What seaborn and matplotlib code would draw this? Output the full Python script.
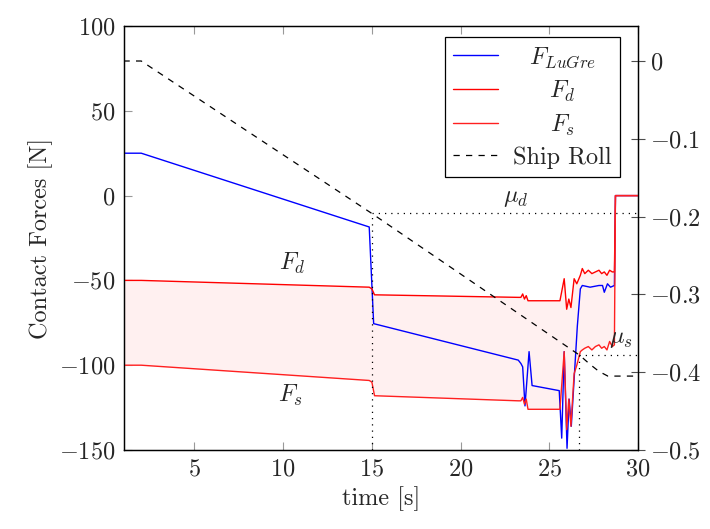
import numpy as np
import pandas as pd
import seaborn as sns
import matplotlib
matplotlib.use('Agg')
import matplotlib.pyplot as plt

# time axes of the series [s]
t_lugre = [1.0, 2.0, 14.85, 15.1, 23.25, 23.4, 23.5, 23.63, 23.86, 24.03, 25.56, 25.7,
           25.84, 26.0, 26.12, 26.24, 26.58, 26.75, 26.86, 27.3, 27.8, 28.0, 28.1, 28.28,
           28.45, 28.67, 28.73, 30.0]
f_lugre = [25, 25, -18.5, -75.5, -97, -99, -101, -124, -92, -112, -115, -143,
           -92, -149, -120, -136, -77, -55, -53, -54, -53, -53, -57, -52,
           -54, -53, 0, 0]

t_fric = [1.0, 2.0, 14.85, 15.0, 15.15, 23.25, 23.4, 23.5, 23.6, 23.7, 23.8, 25.6,
          25.84, 25.98, 26.1, 26.22, 26.4, 26.55, 26.75, 26.86, 27.0, 27.2, 27.4, 27.6,
          27.8, 27.95, 28.1, 28.25, 28.4, 28.55, 28.67, 28.73, 30.0]
f_d = [-50, -50, -54, -55, -58.5, -60, -60, -58, -61, -59, -62, -62,
       -49, -67, -61, -66, -49, -52, -47, -43, -46, -44, -46, -45,
       -44, -46, -45, -47, -44, -45, -45, 0, 0]
f_s = [-100, -100, -109, -110, -118, -121, -121, -119, -123, -120, -126, -126,
       -92, -138, -120, -136, -105, -100, -92, -91, -90, -89, -91, -89,
       -88, -90, -89, -91, -86, -89, -88, 0, 0]

t_roll = [1.0, 2.0, 15.0, 26.7, 27.3, 27.8, 28.3, 30.0]
roll = [0, 0, -0.196, -0.378, -0.390, -0.399, -0.405, -0.405]

# friction coefficient thresholds (right axis) and the times they are hit
mu_d, t_mu_d = -0.196, 15.0
mu_s, t_mu_s = -0.378, 26.7

x_ticks = [5, 10, 15, 20, 25, 30]
force_ticks = [-150, -100, -50, 0, 50, 100]
roll_ticks = [-0.5, -0.4, -0.3, -0.2, -0.1, 0]
roll_ticklabels = [r'$-0.5$', r'$-0.4$', r'$-0.3$', r'$-0.2$', r'$-0.1$', r'$0$']

sns.set_style('ticks')
plt.rcParams['font.family'] = 'cmr10'
plt.rcParams['mathtext.fontset'] = 'cm'
plt.rcParams['axes.formatter.use_mathtext'] = True
plt.rcParams['axes.unicode_minus'] = True
fs = 17.5

fig = plt.figure(figsize=(7.1, 5.29), dpi=100)
ax = fig.add_axes([123.5 / 710, 1 - 450 / 529, (638 - 123.5) / 710, (450 - 26) / 529])
ax2 = ax.twinx()

ax.fill_between(t_fric, f_d, f_s, color='#fff0f0', lw=0, zorder=1)
sns.lineplot(x=t_lugre, y=f_lugre, ax=ax, color='blue', lw=1, sort=False,
             estimator=None, label=r'$F_{LuGre}$', legend=False, zorder=3)
sns.lineplot(x=t_fric, y=f_d, ax=ax, color='red', lw=1, sort=False,
             estimator=None, label=r'$F_d$', legend=False, zorder=4)
sns.lineplot(x=t_fric, y=f_s, ax=ax, color='#ff2020', lw=1, sort=False,
             estimator=None, label=r'$F_s$', legend=False, zorder=4)
sns.lineplot(x=t_roll, y=roll, ax=ax2, color='black', lw=0.9, sort=False,
             estimator=None, label='Ship Roll', legend=False)
ax2.lines[-1].set_dashes([5, 5])

# threshold guides on the roll axis
dot = (0, (1, 4))
ax2.plot([t_mu_d, 30], [mu_d, mu_d], color='black', ls=dot, lw=0.9)
ax2.plot([t_mu_d, t_mu_d], [-0.5, mu_d], color='black', ls=dot, lw=0.9)
ax2.plot([t_mu_s, 30], [mu_s, mu_s], color='black', ls=dot, lw=0.9)
ax2.plot([t_mu_s, t_mu_s], [-0.5, mu_s], color='black', ls=dot, lw=0.9)
ax2.text(23.1, mu_d + 0.006, r'$\mu_d$', fontsize=fs, ha='center', va='bottom')
ax2.text(29.05, mu_s + 0.006, r'$\mu_s$', fontsize=fs, ha='center', va='bottom')

ax.text(10.5, -40, r'$F_d$', fontsize=fs, ha='center', va='center')
ax.text(10.4, -118, r'$F_s$', fontsize=fs, ha='center', va='center')

ax.set_xlim(1, 30)
ax.set_ylim(-150, 100)
ax2.set_ylim(-0.5, 0.045)
ax.set_xticks(x_ticks)
ax.set_yticks(force_ticks)
ax2.set_yticks(roll_ticks)
ax2.set_yticklabels(roll_ticklabels)
ax.set_xlabel('time [s]', fontsize=fs)
ax.set_ylabel('Contact Forces [N]', fontsize=fs)

ax.tick_params(axis='both', direction='in', length=6, width=0.8, color='0.6',
               labelsize=fs, top=True, right=False, pad=6)
ax2.tick_params(axis='y', direction='inout', length=10, width=0.8, color='0.3',
                labelsize=fs, pad=4)
for a in (ax, ax2):
    for sp in a.spines.values():
        sp.set_color('black')
        sp.set_linewidth(0.9)

handles = ax.get_lines()[:3] + ax2.get_lines()[:1]
labels = [h.get_label() for h in handles]
leg = ax2.legend(handles, labels, loc='upper right', bbox_to_anchor=(0.965, 0.974),
                 fontsize=fs, frameon=True, fancybox=False, framealpha=1,
                 edgecolor='black', handlelength=1.85, borderpad=0.35,
                 labelspacing=0.36, handletextpad=0.6, borderaxespad=0)
leg.get_frame().set_linewidth(0.9)

# centre the legend texts like the original
fig.canvas.draw()
widths = [t.get_window_extent().width for t in leg.get_texts()]
for t, w in zip(leg.get_texts(), widths):
    t.set_x((max(widths) - w) / 2)

fig.savefig('out.png', dpi=100)
